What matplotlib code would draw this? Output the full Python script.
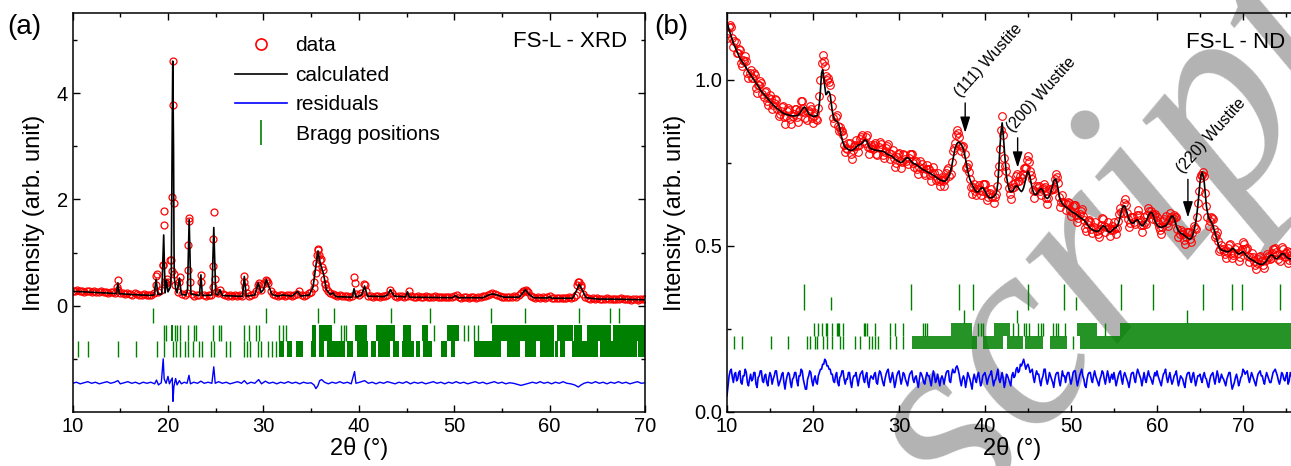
import numpy as np
import matplotlib
matplotlib.use('Agg')
import matplotlib.pyplot as plt
from matplotlib.lines import Line2D
from matplotlib.ticker import FixedLocator, MultipleLocator

# ---------------- (a) XRD data ----------------
# observed intensities on the 0.25 deg scan grid starting at 10 deg
xrd_obs = [
    0.28, 0.27, 0.29, 0.27, 0.28, 0.26, 0.27, 0.28, 0.26, 0.27, 0.25, 0.26, 0.27, 0.25, 0.26, 0.24, 0.25, 0.26, 0.24, 0.49,
    0.24, 0.23, 0.22, 0.24, 0.22, 0.21, 0.23, 0.22, 0.21, 0.20, 0.22, 0.21, 0.20, 0.21, 0.24, 0.55, 0.26, 0.30, 0.77, 0.42,
    0.45, 0.86, 4.61, 0.38, 0.25, 0.53, 0.22, 0.20, 0.24, 1.64, 0.22, 0.19, 0.20, 0.21, 0.58, 0.20, 0.19, 0.20, 0.21, 1.25,
    0.26, 0.24, 0.30, 0.22, 0.20, 0.19, 0.21, 0.19, 0.20, 0.18, 0.20, 0.19, 0.56, 0.24, 0.19, 0.20, 0.22, 0.28, 0.43, 0.30,
    0.40, 0.49, 0.42, 0.28, 0.22, 0.20, 0.19, 0.21, 0.20, 0.19, 0.21, 0.20, 0.19, 0.21, 0.22, 0.27, 0.20, 0.19, 0.21, 0.23,
    0.26, 0.33, 0.62, 1.07, 0.88, 0.68, 0.40, 0.27, 0.23, 0.22, 0.20, 0.19, 0.20, 0.18, 0.19, 0.18, 0.17, 0.19, 0.54, 0.22,
    0.20, 0.24, 0.40, 0.27, 0.19, 0.18, 0.17, 0.19, 0.18, 0.17, 0.19, 0.18, 0.21, 0.30, 0.24, 0.18, 0.17, 0.19, 0.18, 0.17,
    0.19, 0.27, 0.18, 0.17, 0.16, 0.18, 0.17, 0.16, 0.18, 0.17, 0.16, 0.17, 0.18, 0.16, 0.17, 0.16, 0.17, 0.16, 0.17, 0.16,
    0.18, 0.21, 0.16, 0.15, 0.17, 0.16, 0.15, 0.16, 0.17, 0.15, 0.16, 0.17, 0.18, 0.19, 0.20, 0.22, 0.24, 0.22, 0.20, 0.18,
    0.17, 0.16, 0.17, 0.16, 0.17, 0.18, 0.17, 0.20, 0.24, 0.28, 0.30, 0.25, 0.19, 0.16, 0.15, 0.16, 0.15, 0.16, 0.15, 0.17,
    0.19, 0.15, 0.14, 0.15, 0.14, 0.15, 0.14, 0.15, 0.16, 0.15, 0.17, 0.20, 0.44, 0.36, 0.22, 0.16, 0.14, 0.13, 0.14, 0.13,
    0.14, 0.13, 0.12, 0.13, 0.14, 0.12, 0.13, 0.12, 0.13, 0.12, 0.14, 0.12, 0.13, 0.12, 0.11, 0.13, 0.12, 0.11, 0.12, 0.13,
    0.12,
]
# extra observed points on the steep flanks of the narrow peaks
xrd_obs_extra = [
    (14.7, 0.36), (14.8, 0.30), (18.7, 0.38), (18.85, 0.60), (19.45, 0.76), (19.55, 1.79), (19.6, 1.52),
    (19.65, 0.45), (19.85, 0.50), (20.3, 0.86), (20.4, 0.66), (20.45, 2.04), (20.55, 3.77), (20.6, 1.93),
    (20.65, 0.60), (21.15, 0.45), (22.1, 1.15), (22.15, 0.68), (22.2, 1.60), (22.3, 0.45), (23.45, 0.45),
    (24.7, 0.35), (24.75, 0.74), (24.8, 1.77), (24.9, 0.50), (27.95, 0.45), (28.05, 0.35), (29.4, 0.38),
    (30.4, 0.47), (35.25, 0.45), (35.5, 0.80), (35.6, 0.95), (35.7, 1.05), (35.85, 0.95), (35.9, 0.85),
    (36.1, 0.72), (36.4, 0.50), (36.5, 0.40), (36.6, 0.33), (39.55, 0.42), (40.6, 0.38), (57.3, 0.28),
    (57.6, 0.27), (62.9, 0.38), (63.1, 0.44), (63.25, 0.38),
]
xrd_calc = [
    (10.0, 0.27), (11.0, 0.262), (12.0, 0.252), (13.0, 0.243), (14.0, 0.234), (14.6, 0.228), (14.75, 0.43),
    (14.9, 0.225), (16.0, 0.212), (17.0, 0.202), (18.0, 0.195), (18.55, 0.2), (18.75, 0.5), (18.95, 0.21),
    (19.35, 0.22), (19.55, 1.33), (19.7, 0.24), (19.85, 0.48), (20.0, 0.26), (20.25, 0.35), (20.35, 0.6),
    (20.45, 3.5), (20.5, 4.6), (20.58, 3.0), (20.65, 0.55), (20.8, 0.32), (20.95, 0.24), (21.2, 0.52),
    (21.4, 0.21), (21.9, 0.2), (22.05, 0.3), (22.22, 1.62), (22.4, 0.22), (23.3, 0.19), (23.45, 0.58),
    (23.6, 0.19), (24.6, 0.2), (24.8, 1.47), (25.0, 0.22), (25.2, 0.2), (25.45, 0.3), (25.7, 0.19),
    (27.8, 0.175), (28.0, 0.55), (28.2, 0.18), (29.1, 0.2), (29.45, 0.43), (29.75, 0.25), (30.0, 0.3),
    (30.3, 0.49), (30.6, 0.35), (30.9, 0.21), (31.5, 0.18), (32.0, 0.2), (32.5, 0.19), (33.0, 0.18),
    (33.6, 0.27), (33.9, 0.18), (34.8, 0.2), (35.2, 0.35), (35.5, 0.75), (35.72, 1.03), (35.95, 0.8),
    (36.15, 0.68), (36.3, 0.6), (36.6, 0.3), (37.0, 0.21), (37.3, 0.24), (37.6, 0.17), (39.3, 0.16),
    (39.5, 0.32), (39.7, 0.16), (40.3, 0.2), (40.6, 0.37), (40.9, 0.18), (42.6, 0.17), (43.0, 0.2),
    (43.3, 0.3), (43.7, 0.18), (44.9, 0.165), (45.1, 0.26), (45.3, 0.16), (49.8, 0.15), (50.1, 0.19),
    (50.4, 0.15), (53.0, 0.15), (53.6, 0.2), (54.0, 0.22), (54.5, 0.2), (55.2, 0.16), (56.8, 0.16),
    (57.15, 0.23), (57.45, 0.3), (57.8, 0.22), (58.3, 0.15), (59.8, 0.145), (60.0, 0.17), (60.2, 0.14),
    (62.4, 0.14), (62.8, 0.28), (63.1, 0.4), (63.4, 0.3), (63.8, 0.15), (65.0, 0.125), (67.5, 0.12),
    (70.0, 0.11),
]
xrd_resid = [
    (10.0, -1.46), (10.4, -1.44), (10.8, -1.47), (11.2, -1.45), (11.6, -1.43), (12.0, -1.46), (12.4, -1.44),
    (12.8, -1.47), (13.2, -1.45), (13.6, -1.43), (14.0, -1.46), (14.4, -1.44), (14.75, -1.41), (15.0, -1.47),
    (15.4, -1.45), (15.8, -1.43), (16.2, -1.46), (16.6, -1.44), (17.0, -1.47), (17.4, -1.44), (17.8, -1.46),
    (18.2, -1.44), (18.6, -1.47), (18.8, -1.40), (19.0, -1.49), (19.3, -1.45), (19.5, -1.0), (19.6, -1.38),
    (19.8, -1.46), (20.0, -1.33), (20.15, -1.47), (20.3, -1.41), (20.45, -1.36), (20.52, -1.8), (20.62, -1.52),
    (20.8, -1.37), (20.95, -1.49), (21.2, -1.41), (21.4, -1.47), (21.7, -1.44), (22.0, -1.46), (22.2, -1.31),
    (22.35, -1.47), (22.7, -1.44), (23.1, -1.46), (23.45, -1.42), (23.8, -1.46), (24.2, -1.44), (24.6, -1.46),
    (24.8, -1.15), (24.95, -1.46), (25.3, -1.43), (25.7, -1.46), (26.1, -1.44), (26.5, -1.47), (26.9, -1.45),
    (27.3, -1.43), (27.7, -1.46), (28.0, -1.41), (28.3, -1.47), (28.7, -1.44), (29.1, -1.46), (29.5, -1.39),
    (29.8, -1.47), (30.2, -1.42), (30.6, -1.46), (31.0, -1.44), (31.4, -1.47), (31.8, -1.44), (32.2, -1.46),
    (32.6, -1.43), (33.0, -1.46), (33.4, -1.44), (33.8, -1.47), (34.2, -1.44), (34.6, -1.46), (35.0, -1.45),
    (35.3, -1.49), (35.5, -1.56), (35.7, -1.51), (35.9, -1.41), (36.1, -1.39), (36.4, -1.44), (36.8, -1.47),
    (37.2, -1.44), (37.6, -1.46), (38.0, -1.43), (38.4, -1.46), (38.8, -1.44), (39.2, -1.47), (39.55, -1.24),
    (39.7, -1.46), (40.1, -1.44), (40.6, -1.41), (41.0, -1.46), (41.4, -1.44), (41.8, -1.47), (42.2, -1.44),
    (42.6, -1.46), (43.0, -1.43), (43.4, -1.45), (43.8, -1.47), (44.2, -1.44), (44.6, -1.46), (45.0, -1.43),
    (45.4, -1.47), (45.8, -1.44), (46.2, -1.46), (46.6, -1.44), (47.0, -1.47), (47.4, -1.45), (47.8, -1.43),
    (48.2, -1.46), (48.6, -1.44), (49.0, -1.47), (49.4, -1.44), (49.8, -1.46), (50.2, -1.43), (50.6, -1.46),
    (51.0, -1.44), (51.4, -1.47), (51.8, -1.45), (52.2, -1.43), (52.6, -1.46), (53.0, -1.44), (53.4, -1.47),
    (53.8, -1.45), (54.2, -1.43), (54.6, -1.46), (55.0, -1.44), (55.4, -1.47), (55.8, -1.45), (56.2, -1.46),
    (56.6, -1.48), (57.0, -1.50), (57.4, -1.48), (57.8, -1.46), (58.2, -1.44), (58.6, -1.46), (59.0, -1.43),
    (59.4, -1.46), (59.8, -1.44), (60.2, -1.47), (60.6, -1.44), (61.0, -1.46), (61.4, -1.43), (61.8, -1.46),
    (62.2, -1.47), (62.6, -1.49), (63.0, -1.53), (63.3, -1.49), (63.6, -1.46), (64.0, -1.44), (64.4, -1.46),
    (64.8, -1.43), (65.2, -1.46), (65.6, -1.44), (66.0, -1.47), (66.4, -1.44), (66.8, -1.46), (67.2, -1.43),
    (67.6, -1.46), (68.0, -1.44), (68.4, -1.47), (68.8, -1.45), (69.2, -1.43), (69.6, -1.46), (70.0, -1.45),
]
# Bragg positions, three phases (single ticks + runs of merged ticks)
xrd_bragg1 = [18.4, 30.3, 35.75, 37.35, 43.4, 47.5, 53.85, 57.45, 63.1, 66.3, 67.3]
xrd_bragg2 = [19.55, 19.8, 20.7, 20.9, 21.3, 22.1, 22.7, 22.95, 24.7, 25.35, 25.55, 27.95, 28.5, 29.25,
              29.5, 31.65, 32.1, 32.35, 38.1, 38.4, 38.7, 47.9, 51.0, 51.4, 52.1, 52.5]
xrd_bragg2_runs = [(20.3, 20.55), (35.1, 35.5), (35.85, 37.2), (39.6, 40.9), (41.8, 43.8), (44.6, 45.5),
                   (46.6, 47.25), (49.2, 50.5), (54.0, 60.4), (60.8, 62.4), (62.6, 63.4), (63.9, 66.4),
                   (66.6, 70.0)]
xrd_bragg3 = [10.55, 11.6, 14.8, 16.7, 18.9, 19.55, 20.5, 20.85, 21.3, 21.75, 22.1, 22.65, 23.3, 23.6,
              24.55, 24.85, 26.05, 26.45, 27.95, 28.3, 28.55, 29.45, 29.7, 30.5, 30.9, 31.3]
xrd_bragg3_runs = [(31.65, 32.2), (32.5, 33.0), (33.4, 34.1), (34.95, 35.5), (35.85, 36.4), (36.7, 38.6),
                   (38.8, 39.4), (39.8, 41.0), (41.3, 41.8), (42.0, 43.3), (43.6, 44.2), (44.5, 45.8),
                   (46.0, 46.4), (46.7, 47.7), (48.6, 49.2), (49.7, 50.1), (52.05, 54.9), (55.55, 56.9),
                   (57.4, 58.6), (59.0, 60.4), (60.6, 60.9), (61.1, 61.6), (62.3, 65.1), (65.3, 69.1),
                   (69.3, 70.0)]

# ---------------- (b) ND data ----------------
# calculated profile on the 0.125 deg grid starting at 10 deg
nd_calc = [
    1.175, 1.162, 1.15, 1.14, 1.13, 1.12, 1.11, 1.102, 1.095, 1.087, 1.08, 1.072, 1.065, 1.06, 1.055, 1.05, 1.045, 1.04, 1.035, 1.03,
    1.025, 1.02, 1.015, 1.01, 1.005, 1.0, 0.995, 0.99, 0.985, 0.98, 0.975, 0.97, 0.965, 0.961, 0.958, 0.954, 0.950, 0.946, 0.943, 0.939,
    0.935, 0.931, 0.928, 0.924, 0.921, 0.918, 0.915, 0.912, 0.910, 0.907, 0.905, 0.902, 0.900, 0.898, 0.897, 0.896, 0.895, 0.894, 0.893, 0.892,
    0.892, 0.891, 0.891, 0.891, 0.891, 0.892, 0.893, 0.896, 0.900, 0.905, 0.910, 0.915, 0.918, 0.915, 0.910, 0.903, 0.897, 0.895, 0.893, 0.891,
    0.890, 0.890, 0.890, 0.891, 0.893, 0.905, 0.93, 0.97, 1.02, 1.03, 1.01, 0.98, 0.955, 0.958, 0.965, 0.963, 0.955, 0.93, 0.905, 0.89,
    0.880, 0.877, 0.875, 0.872, 0.865, 0.852, 0.835, 0.822, 0.810, 0.802, 0.797, 0.794, 0.792, 0.79, 0.788, 0.787, 0.787, 0.788, 0.790, 0.793,
    0.797, 0.80, 0.803, 0.804, 0.805, 0.807, 0.810, 0.814, 0.818, 0.818, 0.815, 0.808, 0.800, 0.795, 0.792, 0.791, 0.790, 0.789, 0.788, 0.787,
    0.787, 0.786, 0.786, 0.785, 0.785, 0.784, 0.783, 0.781, 0.778, 0.776, 0.775, 0.773, 0.772, 0.77, 0.768, 0.765, 0.762, 0.76, 0.757, 0.755,
    0.753, 0.751, 0.750, 0.752, 0.755, 0.758, 0.762, 0.764, 0.765, 0.763, 0.760, 0.756, 0.752, 0.749, 0.747, 0.746, 0.745, 0.742, 0.740, 0.737,
    0.735, 0.732, 0.730, 0.728, 0.727, 0.725, 0.723, 0.721, 0.720, 0.718, 0.716, 0.714, 0.712, 0.71, 0.708, 0.705, 0.703, 0.701, 0.699, 0.697,
    0.696, 0.695, 0.694, 0.695, 0.698, 0.702, 0.708, 0.715, 0.725, 0.738, 0.755, 0.773, 0.790, 0.80, 0.808, 0.811, 0.812, 0.809, 0.805, 0.798,
    0.790, 0.776, 0.760, 0.742, 0.725, 0.711, 0.700, 0.692, 0.685, 0.678, 0.672, 0.666, 0.662, 0.662, 0.663, 0.667, 0.672, 0.674, 0.675, 0.671,
    0.665, 0.658, 0.652, 0.648, 0.645, 0.644, 0.645, 0.646, 0.648, 0.651, 0.655, 0.665, 0.690, 0.74, 0.800, 0.845, 0.870, 0.835, 0.790, 0.75,
    0.710, 0.69, 0.675, 0.667, 0.662, 0.663, 0.665, 0.671, 0.678, 0.68, 0.680, 0.675, 0.670, 0.666, 0.663, 0.667, 0.675, 0.688, 0.705, 0.717,
    0.725, 0.718, 0.705, 0.688, 0.672, 0.662, 0.655, 0.654, 0.655, 0.66, 0.665, 0.669, 0.672, 0.67, 0.665, 0.656, 0.648, 0.644, 0.642, 0.645,
    0.650, 0.659, 0.670, 0.683, 0.695, 0.70, 0.700, 0.688, 0.670, 0.653, 0.638, 0.632, 0.627, 0.623, 0.620, 0.617, 0.615, 0.612, 0.610, 0.607,
    0.605, 0.602, 0.600, 0.598, 0.597, 0.594, 0.592, 0.589, 0.587, 0.584, 0.582, 0.58, 0.578, 0.574, 0.570, 0.565, 0.560, 0.556, 0.552, 0.55,
    0.548, 0.546, 0.545, 0.544, 0.543, 0.544, 0.545, 0.549, 0.553, 0.557, 0.560, 0.559, 0.556, 0.55, 0.545, 0.542, 0.540, 0.542, 0.545, 0.548,
    0.552, 0.554, 0.555, 0.559, 0.565, 0.576, 0.590, 0.603, 0.615, 0.62, 0.620, 0.612, 0.600, 0.59, 0.580, 0.574, 0.570, 0.568, 0.568, 0.571,
    0.575, 0.577, 0.578, 0.574, 0.568, 0.563, 0.560, 0.561, 0.565, 0.57, 0.575, 0.582, 0.590, 0.596, 0.600, 0.6, 0.596, 0.587, 0.575, 0.568,
    0.563, 0.559, 0.557, 0.556, 0.555, 0.556, 0.558, 0.559, 0.560, 0.563, 0.568, 0.573, 0.580, 0.586, 0.590, 0.588, 0.582, 0.572, 0.560, 0.551,
    0.545, 0.541, 0.538, 0.536, 0.535, 0.532, 0.530, 0.527, 0.525, 0.522, 0.520, 0.52, 0.522, 0.529, 0.540, 0.553, 0.570, 0.592, 0.620, 0.655,
    0.690, 0.712, 0.722, 0.712, 0.690, 0.655, 0.620, 0.60, 0.585, 0.58, 0.575, 0.568, 0.560, 0.55, 0.540, 0.528, 0.515, 0.504, 0.495, 0.49,
    0.487, 0.486, 0.485, 0.484, 0.483, 0.482, 0.482, 0.483, 0.485, 0.488, 0.492, 0.491, 0.488, 0.484, 0.480, 0.477, 0.475, 0.476, 0.478, 0.48,
    0.482, 0.479, 0.475, 0.471, 0.468, 0.465, 0.462, 0.46, 0.458, 0.456, 0.455, 0.452, 0.450, 0.448, 0.446, 0.445, 0.444, 0.444, 0.444, 0.446,
    0.448, 0.451, 0.455, 0.46, 0.465, 0.469, 0.472, 0.472, 0.470, 0.466, 0.462, 0.461, 0.462, 0.465, 0.468, 0.472, 0.476, 0.476, 0.475, 0.472,
    0.468, 0.465, 0.462, 0.461, 0.460, 0.461, 0.462, 0.463, 0.465,
]
# difference curve (observed - calculated), same grid
nd_diff = [
    -0.05, -0.02, 0.01, 0.025, 0.03, 0.005, -0.01, 0.015, 0.02, -0.005, 0.0, 0.02, 0.025, -0.01, -0.015, 0.01, 0.01, 0.03, 0.02, -0.01,
    -0.02, 0.0, 0.015, -0.005, 0.0, 0.02, 0.02, -0.015, -0.025, 0.005, 0.01, 0.025, 0.025, -0.005, -0.01, 0.01, 0.015, -0.01, -0.02, 0.005,
    0.02, 0.01, -0.015, 0.0, 0.01, 0.025, 0.025, 0.0, -0.02, -0.01, 0.0, 0.015, 0.02, -0.01, -0.03, -0.005, 0.01, 0.02, 0.015, -0.01,
    -0.025, 0.0, 0.005, 0.02, 0.02, -0.005, -0.02, 0.01, 0.01, 0.03, 0.025, 0.0, -0.015, -0.03, -0.03, 0.0, 0.01, 0.025, 0.02, -0.005,
    -0.02, 0.0, 0.01, -0.01, -0.015, 0.01, 0.02, 0.03, 0.03, 0.045, 0.045, 0.06, 0.055, 0.04, 0.04, 0.03, 0.03, 0.015, 0.015, -0.005,
    -0.01, 0.01, 0.02, -0.01, -0.02, 0.005, 0.01, 0.025, 0.025, 0.0, -0.015, 0.0, 0.0, 0.02, 0.02, -0.01, -0.025, 0.0, 0.01, 0.01,
    0.02, 0.0, -0.02, 0.0, 0.015, 0.02, 0.025, 0.0, -0.01, 0.01, 0.02, -0.01, -0.025, 0.0, 0.01, 0.005, 0.0, 0.015, 0.02, -0.01,
    -0.015, 0.01, 0.025, 0.02, 0.005, -0.01, -0.02, 0.0, 0.015, 0.025, 0.03, 0.005, -0.01, 0.005, 0.02, 0.0, -0.025, -0.01, 0.01, 0.02,
    0.025, 0.005, -0.015, 0.0, 0.02, 0.015, 0.0, -0.01, -0.02, 0.0, 0.015, 0.02, 0.025, 0.0, -0.01, 0.005, 0.01, -0.01, -0.025, 0.0,
    0.02, 0.015, 0.005, -0.01, -0.015, 0.005, 0.02, 0.01, 0.01, -0.005, -0.02, 0.005, 0.025, 0.01, -0.01, 0.0, 0.015, -0.005, -0.02, 0.0,
    0.01, 0.0, -0.015, 0.005, 0.02, 0.025, 0.025, -0.005, -0.01, 0.015, 0.03, 0.02, 0.02, 0.035, 0.04, 0.03, 0.015, -0.005, -0.02, 0.0,
    0.01, 0.0, -0.025, -0.005, 0.02, 0.01, 0.0, -0.015, -0.03, 0.0, 0.015, 0.0, -0.01, 0.01, 0.02, 0.0, -0.02, -0.01, 0.01, 0.015,
    0.02, 0.005, -0.015, 0.0, 0.01, 0.015, 0.025, 0.0, -0.02, -0.005, 0.0, 0.015, 0.03, 0.0, -0.01, 0.005, 0.02, 0.0, -0.025, -0.01,
    0.015, 0.01, 0.0, -0.01, -0.02, 0.01, 0.02, 0.005, 0.01, 0.03, 0.035, 0.02, 0.025, 0.045, 0.04, 0.05, 0.06, 0.045, 0.03, 0.04,
    0.045, 0.035, 0.02, 0.025, 0.03, 0.005, -0.01, 0.01, 0.025, 0.015, 0.015, -0.005, -0.02, 0.0, 0.01, 0.03, 0.03, 0.0, -0.015, 0.0,
    0.02, 0.01, 0.0, -0.01, -0.025, 0.0, 0.015, 0.02, 0.02, -0.005, -0.02, 0.0, 0.025, 0.01, 0.01, -0.01, 0.01, 0.02, 0.02, 0.0,
    -0.015, 0.0, 0.02, 0.025, 0.025, 0.0, -0.02, -0.005, 0.01, 0.02, 0.03, 0.01, 0.0, -0.02, -0.025, 0.0, 0.015, 0.02, 0.02, 0.0,
    -0.01, 0.01, 0.025, 0.01, 0.0, -0.01, -0.02, 0.0, 0.01, 0.025, 0.02, 0.0, -0.015, 0.005, 0.025, 0.01, -0.01, 0.005, 0.015, 0.0,
    0.02, 0.0, -0.02, -0.005, 0.01, 0.02, 0.025, 0.0, -0.015, 0.01, 0.02, 0.01, 0.0, -0.01, -0.025, -0.005, 0.015, 0.02, 0.02, 0.0,
    -0.01, 0.015, 0.03, 0.02, 0.01, 0.0, -0.02, 0.0, 0.02, 0.0, -0.01, 0.01, 0.025, 0.01, 0.005, -0.005, -0.015, 0.005, 0.02, 0.01,
    0.025, 0.01, 0.0, -0.01, -0.02, 0.0, 0.015, 0.02, 0.03, 0.005, -0.01, 0.005, 0.02, 0.0, -0.015, -0.005, 0.01, 0.015, 0.025, 0.0,
    -0.02, -0.005, 0.01, 0.005, 0.0, -0.015, -0.025, 0.0, 0.015, 0.02, 0.02, 0.0, -0.01, 0.01, 0.02, 0.0, -0.02, -0.005, 0.01, 0.01,
    0.015, 0.0, -0.01, 0.01, 0.02, 0.005, 0.0, -0.015, -0.025, -0.005, 0.01, 0.015, 0.02, 0.0, -0.015, 0.005, 0.025, 0.01, -0.01, 0.0,
    0.015, 0.005, 0.0, -0.01, -0.02, 0.0, 0.01, 0.02, 0.02, -0.01, -0.03, -0.02, -0.01, 0.005, 0.015, 0.0, -0.02, -0.01, 0.005, 0.01,
    0.03, 0.025, 0.015, 0.02, 0.025, 0.005, -0.01, 0.005, 0.02, 0.01, 0.0, -0.01, -0.02, 0.0, 0.015, 0.02, 0.025, 0.01, 0.01, -0.005,
    -0.015, 0.005, 0.02, 0.01, 0.0, -0.01, -0.01, 0.005, 0.02, 0.025, 0.03, 0.02, 0.01, -0.005, -0.015, 0.0, 0.02, 0.015, 0.0, -0.005,
    0.01, 0.02, -0.015, -0.005, 0.02, 0.01, 0.0, -0.01, -0.02,
]
nd_row1 = [19.0, 31.35, 36.95, 38.65, 45.05, 49.2, 55.85, 59.5, 65.35, 68.75, 69.9, 74.25]
nd_row2 = [22.1, 50.6]
nd_row3 = [37.6, 43.75, 63.5]
nd_row4 = [20.12, 20.62, 21.08, 21.5, 21.65, 22.17, 22.75, 22.9, 23.02, 23.53, 25.93, 26.1, 26.32, 27.21,
           28.95, 29.53, 30.43, 32.75, 33.0, 33.29, 39.22, 39.5, 39.81, 43.22, 43.88, 44.53, 44.8, 45.15,
           46.2, 46.5, 46.78, 47.95, 48.25, 48.53, 49.3, 53.95]
nd_row4_runs = [(36.1, 38.45), (41.05, 42.91), (50.66, 52.98), (55.7, 76.5)]
nd_row5 = [10.86, 11.8, 15.1, 17.06, 19.26, 19.65, 20.23, 20.5, 21.2, 21.59, 22.17, 23.14, 23.53, 24.88,
           25.47, 26.51, 26.82, 27.21, 27.52, 28.95, 29.65, 30.5, 50.27]
nd_row5_runs = [(31.47, 39.03), (39.81, 42.13), (42.52, 44.46), (44.65, 46.78), (47.56, 49.5), (51.05, 76.5)]
nd_offset = 0.098

wustite = [('(111) Wustite', 37.7, 0.93, 0.84),
           ('(200) Wustite', 43.8, 0.825, 0.735),
           ('(220) Wustite', 63.6, 0.70, 0.585)]

plt.rcParams['font.family'] = ['Liberation Sans', 'DejaVu Sans']
plt.rcParams['axes.linewidth'] = 1.1

RED = '#ff0000'
GREEN = '#008000'
BLUE = '#0000ff'

fig = plt.figure(figsize=(12.91, 4.66), dpi=100)
ax1 = fig.add_axes([0.0562, 0.1159, 0.4435, 0.8556])
ax2 = fig.add_axes([0.5631, 0.1165, 0.4663, 0.8549])
for ax in (ax1, ax2):
    ax.patch.set_visible(False)

# watermark behind everything
fig.text(0.748, -0.12, 'script', rotation=50, rotation_mode='anchor', ha='left', va='baseline',
         fontsize=195, color='#b3b3b3', family='Liberation Serif', style='italic', zorder=-5)


def bragg_rows(ax, rows):
    for ticks, runs, y0, y1, alpha in rows:
        ax.vlines(ticks, y0, y1, color=GREEN, lw=1.0)
        if runs:
            ax.broken_barh([(s, e - s) for s, e in runs], (y0, y1 - y0),
                           facecolors=GREEN, alpha=alpha, lw=0)


# ---- panel (a)
tt_a = 10 + 0.25 * np.arange(len(xrd_obs))
ex_x, ex_y = zip(*xrd_obs_extra)
ca_x, ca_y = zip(*xrd_calc)
ra_x, ra_y = zip(*xrd_resid)
ax1.plot(tt_a, xrd_obs, 'o', mfc='none', mec=RED, ms=5, mew=0.9)
ax1.plot(ex_x, ex_y, 'o', mfc='none', mec=RED, ms=5, mew=0.9)
ax1.plot(ca_x, ca_y, color='k', lw=1.2)
ax1.plot(ra_x, ra_y, color=BLUE, lw=1.0)
bragg_rows(ax1, [(xrd_bragg1, None, -0.33, -0.04, 1),
                 (xrd_bragg2, xrd_bragg2_runs, -0.66, -0.36, 1),
                 (xrd_bragg3, xrd_bragg3_runs, -0.97, -0.67, 1)])
ax1.set_xlim(10, 70)
ax1.set_ylim(-2, 5.5)
ax1.xaxis.set_major_locator(MultipleLocator(10))
ax1.xaxis.set_minor_locator(MultipleLocator(5))
ax1.yaxis.set_major_locator(FixedLocator([0, 2, 4]))
ax1.yaxis.set_minor_locator(FixedLocator([-1, 1, 3, 5]))
ax1.set_xlabel('2\u03b8 (\u00b0)', fontsize=17, labelpad=1)
ax1.set_ylabel('Intensity (arb. unit)', fontsize=17, labelpad=8)
ax1.text(0.968, 0.928, 'FS-L - XRD', transform=ax1.transAxes, ha='right', va='center', fontsize=16)

handles = [Line2D([], [], marker='o', mfc='none', mec=RED, ms=8, mew=1.2, ls='none'),
           Line2D([], [], color='k', lw=1.2),
           Line2D([], [], color=BLUE, lw=1.2),
           Line2D([], [], marker='|', color=GREEN, ms=18, mew=1.2, ls='none')]
ax1.legend(handles, ['data', 'calculated', 'residuals', 'Bragg positions'],
           loc='upper left', bbox_to_anchor=(0.284, 0.942), frameon=False, fontsize=15,
           handlelength=2.5, handletextpad=0.4, labelspacing=0.5, borderpad=0, borderaxespad=0)

# ---- panel (b)
n_b = min(len(nd_calc), len(nd_diff))
tt_b = 10 + 0.125 * np.arange(n_b)
calc_b = np.array(nd_calc[:n_b])
diff_b = np.array(nd_diff[:n_b])
ax2.plot(tt_b, calc_b + diff_b, 'o', mfc='none', mec=RED, ms=5.5, mew=0.8)
ax2.plot(tt_b, calc_b, color='k', lw=1.2)
ax2.plot(tt_b, diff_b + nd_offset, color=BLUE, lw=1.2)
bragg_rows(ax2, [(nd_row1, None, 0.305, 0.385, 1),
                 (nd_row2, None, 0.305, 0.345, 1),
                 (nd_row3, None, 0.266, 0.305, 1),
                 (nd_row4, nd_row4_runs, 0.228, 0.266, 0.85),
                 (nd_row5, nd_row5_runs, 0.19, 0.228, 0.85)])
for label, x, y_tail, y_tip in wustite:
    ax2.annotate('', xy=(x, y_tip), xytext=(x, y_tail),
                 arrowprops=dict(arrowstyle='-|>,head_width=0.25,head_length=0.8', color='k', lw=1.0,
                                 mutation_scale=12, shrinkA=0, shrinkB=0))
    ax2.text(x - 0.3, y_tail + 0.01, label, rotation=48, rotation_mode='anchor', ha='left', va='bottom',
             fontsize=11.5)
ax2.set_xlim(10, 80)
ax2.set_ylim(0, 1.2)
ax2.xaxis.set_major_locator(MultipleLocator(10))
ax2.xaxis.set_minor_locator(MultipleLocator(5))
ax2.yaxis.set_major_locator(FixedLocator([0.0, 0.5, 1.0]))
ax2.yaxis.set_minor_locator(FixedLocator([0.25, 0.75]))
ax2.yaxis.set_major_formatter(plt.FormatStrFormatter('%.1f'))
ax2.set_xlabel('2\u03b8 (\u00b0)', fontsize=17, labelpad=1)
ax2.xaxis.label.set_x(0.473)
ax2.set_ylabel('Intensity (arb. unit)', fontsize=17, labelpad=6)
ax2.text(74.9, 1.112, 'FS-L - ND', ha='right', va='center', fontsize=16)

for ax in (ax1, ax2):
    ax.tick_params(which='both', direction='in', top=True, right=True, labelsize=14.5, width=1.0)
    ax.tick_params(which='major', length=5)
    ax.tick_params(which='minor', length=3)

fig.text(0.006, 0.942, '(a)', fontsize=20, va='center')
fig.text(0.507, 0.942, '(b)', fontsize=20, va='center')

fig.savefig('out.png', dpi=100)
